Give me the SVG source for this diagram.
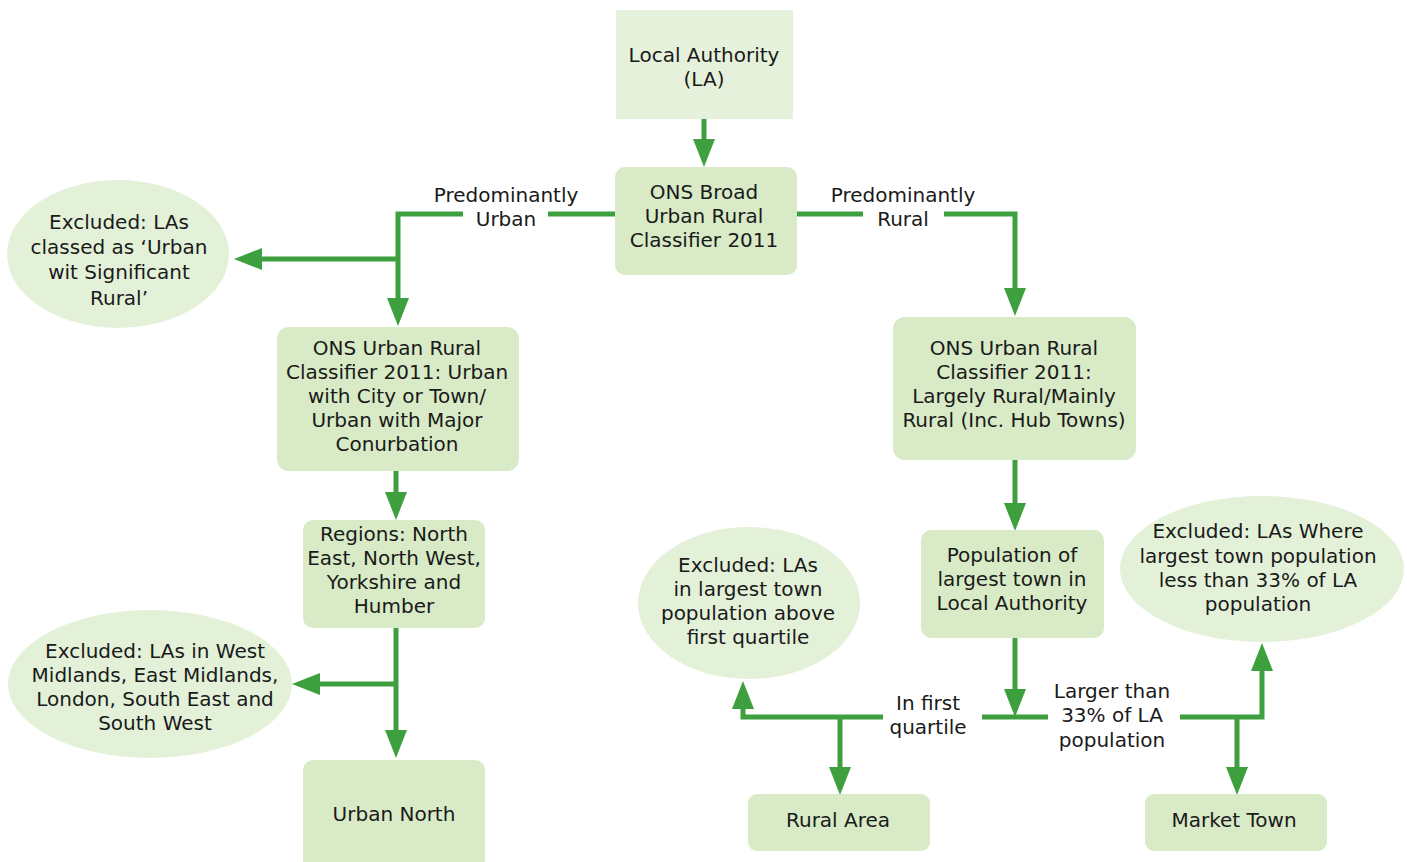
<svg xmlns="http://www.w3.org/2000/svg" width="1407" height="862" viewBox="0 0 1407 862">
<style>
text{font-family:"DejaVu Sans","Liberation Sans",sans-serif;font-size:20px;fill:#1a1a1a;text-anchor:middle;dominant-baseline:central}
.box{fill:#d8eac6}
.top{fill:#e5f1da}
.ell{fill:#e4f1d9}
.con{fill:none;stroke:#3e9f3e;stroke-width:5;marker-end:url(#ah)}
.ln{fill:none;stroke:#3e9f3e;stroke-width:5}
</style>
<defs>
<marker id="ah" viewBox="0 0 28 22" refX="0" refY="11" markerWidth="28" markerHeight="22" markerUnits="userSpaceOnUse" orient="auto">
<path d="M0 0L28 11L0 22Z" fill="#3e9f3e"/>
</marker>
</defs>
<rect width="1407" height="862" fill="#ffffff"/>
<g id="connectors">
<path class="con" d="M704 119V139"/>
<path class="ln" d="M615 214H548"/>
<path class="con" d="M463 214H398V298"/>
<path class="con" d="M398 259H262"/>
<path class="ln" d="M797 214H863"/>
<path class="con" d="M944 214H1015V288"/>
<path class="con" d="M396 471V492"/>
<path class="con" d="M396 628V730"/>
<path class="con" d="M396 684H320"/>
<path class="con" d="M1015 460V503"/>
<path class="con" d="M1015 638V689"/>
<path class="con" d="M883 717H743V709"/>
<path class="ln" d="M982 717H1048"/>
<path class="con" d="M1180 717H1262V671"/>
<path class="con" d="M840 717V767"/>
<path class="con" d="M1237 717V767"/>
<text x="506" y="195">Predominantly</text>
<text x="506" y="219">Urban</text>
<text x="903" y="195">Predominantly</text>
<text x="903" y="219">Rural</text>
<text x="928" y="703">In first</text>
<text x="928" y="727">quartile</text>
<text x="1112" y="691">Larger than</text>
<text x="1112" y="715">33% of LA</text>
<text x="1112" y="740">population</text>
</g>
<g id="local-authority">
<rect class="top" x="616" y="10" width="177" height="109"/>
<text x="704" y="55">Local Authority</text>
<text x="704" y="79">(LA)</text>
</g>
<g id="ons-broad">
<rect class="box" x="615" y="167" width="182" height="108" rx="10"/>
<text x="704" y="192">ONS Broad</text>
<text x="704" y="216">Urban Rural</text>
<text x="704" y="240">Classifier 2011</text>
</g>
<g id="excluded-significant-rural">
<ellipse class="ell" cx="118" cy="254" rx="111" ry="74"/>
<text x="119" y="222">Excluded: LAs</text>
<text x="119" y="247">classed as ‘Urban</text>
<text x="119" y="272">wit Significant</text>
<text x="119" y="298">Rural’</text>
</g>
<g id="ons-urban">
<rect class="box" x="277" y="327" width="242" height="144" rx="12"/>
<text x="397" y="348">ONS Urban Rural</text>
<text x="397" y="372">Classifier 2011: Urban</text>
<text x="397" y="396">with City or Town/</text>
<text x="397" y="420">Urban with Major</text>
<text x="397" y="444">Conurbation</text>
</g>
<g id="regions">
<rect class="box" x="303" y="520" width="182" height="108" rx="10"/>
<text x="394" y="534">Regions: North</text>
<text x="394" y="558">East, North West,</text>
<text x="394" y="582">Yorkshire and</text>
<text x="394" y="606">Humber</text>
</g>
<g id="excluded-regions">
<ellipse class="ell" cx="150" cy="684" rx="142" ry="74"/>
<text x="155" y="651">Excluded: LAs in West</text>
<text x="155" y="675">Midlands, East Midlands,</text>
<text x="155" y="699">London, South East and</text>
<text x="155" y="723">South West</text>
</g>
<g id="urban-north">
<rect class="box" x="303" y="760" width="182" height="115" rx="10"/>
<text x="394" y="814">Urban North</text>
</g>
<g id="ons-rural">
<rect class="box" x="893" y="317" width="243" height="143" rx="12"/>
<text x="1014" y="348">ONS Urban Rural</text>
<text x="1014" y="372">Classifier 2011:</text>
<text x="1014" y="396">Largely Rural/Mainly</text>
<text x="1014" y="420">Rural (Inc. Hub Towns)</text>
</g>
<g id="population">
<rect class="box" x="921" y="530" width="183" height="108" rx="10"/>
<text x="1012" y="555">Population of</text>
<text x="1012" y="579">largest town in</text>
<text x="1012" y="603">Local Authority</text>
</g>
<g id="excluded-quartile">
<ellipse class="ell" cx="749" cy="603" rx="111" ry="76"/>
<text x="748" y="565">Excluded: LAs</text>
<text x="748" y="589">in largest town</text>
<text x="748" y="613">population above</text>
<text x="748" y="637">first quartile</text>
</g>
<g id="excluded-33">
<ellipse class="ell" cx="1262" cy="569" rx="142" ry="73"/>
<text x="1258" y="531">Excluded: LAs Where</text>
<text x="1258" y="556">largest town population</text>
<text x="1258" y="580">less than 33% of LA</text>
<text x="1258" y="604">population</text>
</g>
<g id="rural-area">
<rect class="box" x="748" y="794" width="182" height="57" rx="9"/>
<text x="838" y="820">Rural Area</text>
</g>
<g id="market-town">
<rect class="box" x="1145" y="794" width="182" height="57" rx="9"/>
<text x="1234" y="820">Market Town</text>
</g>
</svg>
